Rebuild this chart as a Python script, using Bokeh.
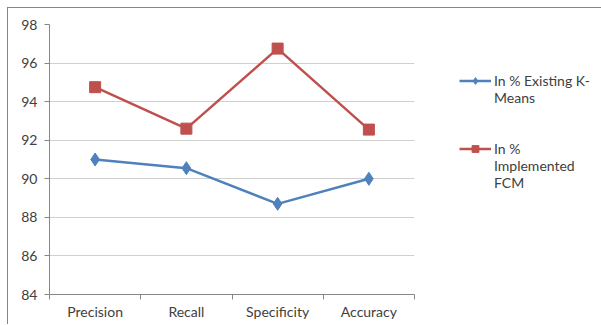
from bokeh.plotting import figure
from bokeh.models import FixedTicker, Legend, LegendItem, Range1d
from bokeh.embed import file_html
from bokeh.resources import INLINE

categories = ["Precision", "Recall", "Specificity", "Accuracy"]
existing_kmeans = [91.0, 90.55, 88.7, 90.0]
implemented_fcm = [94.75, 92.6, 96.75, 92.55]
y_ticks = [84, 86, 88, 90, 92, 94, 96, 98]
series_label_lines = [["In % Existing K-", "Means"], ["In %", "Implemented", "FCM"]]

xs = [i + 0.5 for i in range(len(categories))]
FONT = "Lato"
TXT = "#404040"
AX = "#868686"

p = figure(frame_width=365, frame_height=270, output_backend="svg", toolbar_location=None,
           x_range=Range1d(0, len(categories)), y_range=Range1d(y_ticks[0], y_ticks[-1]),
           min_border_left=41, min_border_right=187, min_border_top=16, min_border_bottom=30)
p.margin = (7, 0, 0, 7)
p.styles = {"border-left": "1px solid #868686", "border-top": "1px solid #868686"}
p.outline_line_color = None
p.background_fill_color = "white"
p.border_fill_color = "white"

p.xaxis.ticker = FixedTicker(ticks=xs, minor_ticks=list(range(len(categories) + 1)))
p.xaxis.major_label_overrides = {x: c for x, c in zip(xs, categories)}
p.xaxis.major_tick_out = 0
p.xaxis.major_tick_in = 0
p.xaxis.minor_tick_out = 5
p.xaxis.minor_tick_in = 0
p.xaxis.minor_tick_line_color = AX
p.xaxis.axis_line_color = AX
p.xaxis.major_label_standoff = 3

p.yaxis.ticker = FixedTicker(ticks=y_ticks)
p.yaxis.major_tick_out = 5
p.yaxis.major_tick_in = 0
p.yaxis.major_tick_line_color = AX
p.yaxis.minor_tick_line_color = None
p.yaxis.axis_line_color = AX
p.yaxis.major_label_standoff = 7

for ax in (p.xaxis, p.yaxis):
    ax.major_label_text_font = FONT
    ax.major_label_text_font_size = "14px"
    ax.major_label_text_color = TXT

p.xgrid.grid_line_color = None
p.ygrid.grid_line_color = "#D0D0D0"
p.ygrid.grid_line_width = 1

l1 = p.line(xs, existing_kmeans, line_color="#4F81BD", line_width=2.5)
m1 = p.scatter(xs, existing_kmeans, marker="diamond", size=13, fill_color="#4F81BD", line_color="#4F81BD")
l2 = p.line(xs, implemented_fcm, line_color="#C0504D", line_width=2.5)
m2 = p.scatter(xs, implemented_fcm, marker="square", size=11, fill_color="#C0504D", line_color="#C0504D")

# invisible renderer used for continuation lines of wrapped legend labels
blank = p.line(x=[], y=[], line_alpha=0)

items = [LegendItem(label=series_label_lines[0][0], renderers=[l1, m1])]
items += [LegendItem(label=t, renderers=[blank]) for t in series_label_lines[0][1:]]
items += [LegendItem(label=" ", renderers=[blank]), LegendItem(label="  ", renderers=[blank])]
items += [LegendItem(label=series_label_lines[1][0], renderers=[l2, m2])]
items += [LegendItem(label=t, renderers=[blank]) for t in series_label_lines[1][1:]]

legend = Legend(items=items, location=(45, 103))
legend.border_line_color = None
legend.background_fill_alpha = 0
legend.padding = 0
legend.margin = 0
legend.spacing = 0
legend.glyph_width = 32
legend.glyph_height = 17
legend.label_height = 17
legend.label_standoff = 3
legend.label_text_font = FONT
legend.label_text_font_size = "14px"
legend.label_text_color = TXT
p.add_layout(legend, "right")

open("out.html", "w").write(file_html(p, INLINE))
